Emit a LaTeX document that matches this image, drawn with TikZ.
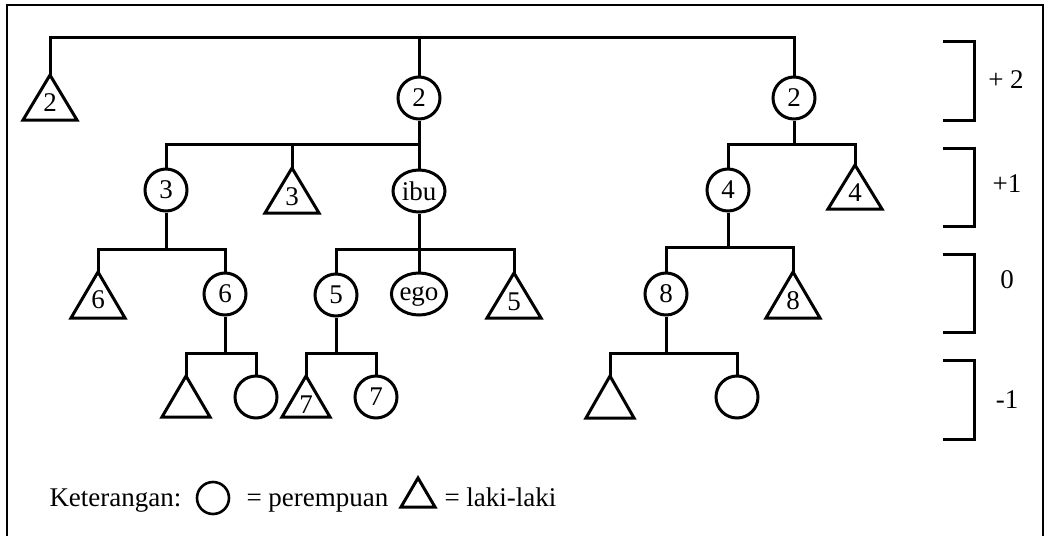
\documentclass[tikz,border=0pt]{standalone}
\usepackage{fontspec}
\setmainfont{Liberation Serif}
\usetikzlibrary{shapes.geometric}
\newcommand\maletri[7]{%
  \coordinate (#1) at (#2,#3);
  \draw[shapeline] (#1) -- ++(#4,#5) -- ++(-2*#4,0) -- cycle;
  \node[lbl] (#1-l) at (#2,#3+#7) {#6};}
\begin{document}
\begin{tikzpicture}[x=1pt,y=-1pt,
  line width=3pt,
  shapeline/.style={line width=3pt},
  lbl/.style={inner sep=0pt,font=\fontsize{27}{32}\selectfont},
  fem/.style={circle,draw,line width=3pt,minimum size=42pt,inner sep=0pt,font=\fontsize{27}{32}\selectfont},
  egobox/.style={ellipse,draw,line width=3pt,minimum width=52pt,minimum height=42pt,inner sep=0pt,text depth=0pt,font=\fontsize{27}{32}\selectfont},
  frameline/.style={line width=2.2pt}]
\useasboundingbox (0,0) rectangle (1045,536);
\draw[frameline] (7,536) -- (7,5) -- (1043,5) -- (1043,536);

% generation +2
\maletri{t2}{50}{75}{27}{45}{2}{28}
\node[fem] (c2m) at (419,98) {2};
\node[fem] (c2r) at (794,98) {2};
\coordinate (top) at (419,37);
\draw (t2) -- (t2 |- top) -- (c2r.north |- top) -- (c2r.north);
\draw (c2m.north) -- (c2m.north |- top);

% generation +1 (left)
\node[fem] (c3) at (166,190) {3};
\maletri{t3}{292}{168}{27}{45}{3}{29}
\node[egobox] (ibu) at (419,191) {ibu};
\coordinate (b1L) at (419,144);
\draw (c2m.south) -- (ibu.north);
\draw (c3.north) |- (b1L);
\draw (t3) -- (t3 |- b1L);

% generation +1 (right)
\node[fem] (c4) at (728,190) {4};
\maletri{t4}{855}{165}{27}{44}{4}{28}
\coordinate (b1R) at (794,144);
\draw (c2r.south) -- (b1R);
\draw (c4.north) |- (t4 |- b1R) -- (t4);

% generation 0
\maletri{t6}{98}{272}{27}{46}{6}{28}
\node[fem] (c6) at (225,294) {6};
\coordinate (b2a) at (166,249);
\draw (c3.south) -- (b2a);
\draw (t6) |- (c6.north |- b2a) -- (c6.north);

\node[fem] (c5) at (336,295) {5};
\node[egobox] (ego) at (419,294) {ego};
\maletri{t5}{514}{273}{27}{45}{5}{29}
\coordinate (b2b) at (419,249);
\draw (ibu.south) -- (ego.north);
\draw (c5.north) |- (t5 |- b2b) -- (t5);

\node[fem] (c8) at (666,294) {8};
\maletri{t8}{793}{272}{27}{46}{8}{29}
\coordinate (b2c) at (728,247);
\draw (c4.south) -- (b2c);
\draw (c8.north) |- (t8 |- b2c) -- (t8);

% generation -1
\maletri{ta}{186}{376}{24}{41}{}{27}
\node[fem] (ca) at (256,397) {};
\coordinate (b3a) at (225,353);
\draw (c6.south) -- (b3a);
\draw (ta) |- (ca.north |- b3a) -- (ca.north);

\maletri{t7}{306}{376}{24}{41}{7}{29}
\node[fem] (c7) at (376,397) {7};
\coordinate (b3b) at (336,353);
\draw (c5.south) -- (b3b);
\draw (t7) |- (c7.north |- b3b) -- (c7.north);

\maletri{tb}{610}{376}{24}{42}{}{27}
\node[fem] (cb) at (737,397) {};
\coordinate (b3c) at (666,353);
\draw (c8.south) -- (b3c);
\draw (tb) |- (cb.north |- b3c) -- (cb.north);

% generation brackets
\foreach \a/\b in {41/120,148/226,254/332,360/439}
  \draw (943,\a) -- (974,\a) -- (974,\b) -- (943,\b);
\node[lbl] (g2) at (1006,80) {+ 2};
\node[lbl] (g1) at (1007,184) {+1};
\node[lbl] (g0) at (1007,280) {0};
\node[lbl] (gm1) at (1007,400) {-1};

% legend
\node[lbl,anchor=base west] (ket) at (48,506) {Keterangan:};
\node[fem,minimum size=32pt,line width=2.6pt] (lc) at (213,498) {};
\node[lbl,anchor=base west] (lp) at (245,506) {= perempuan};
\maletri{lt}{418}{478}{17}{29}{}{20}
\node[lbl,anchor=base west] (ll) at (443,506) {= laki-laki};
\end{tikzpicture}
\end{document}
